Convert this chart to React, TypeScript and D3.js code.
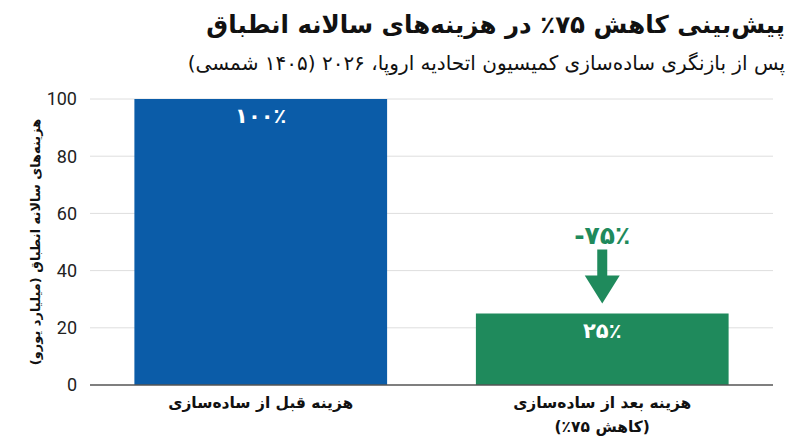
import { useMemo } from "react";
import * as d3 from "d3";

const categories = ["before", "after"];
const categoryLines = [
  ["هزینه قبل از ساده‌سازی"],
  ["هزینه بعد از ساده‌سازی", "(کاهش ۷۵٪)"],
];
const costValues = [100, 25];
const barLabels = ["۱۰۰٪", "۲۵٪"];
const barColors = ["#0b5ca8", "#1f8a5c"];
const yTicks = [0, 20, 40, 60, 80, 100];
const reductionLabel = "-۷۵٪";

const TITLE = "پیش‌بینی کاهش ۷۵٪ در هزینه‌های سالانه انطباق";
const SUBTITLE = "پس از بازنگری ساده‌سازی کمیسیون اتحادیه اروپا، ۲۰۲۶ (۱۴۰۵ شمسی)";
const Y_TITLE = "هزینه‌های سالانه انطباق (میلیارد یورو)";

const WIDTH = 800;
const HEIGHT = 447;
const MARGIN = { top: 99, right: 27, bottom: 62, left: 90 };
const FA = "'DejaVu Sans', 'Noto Sans', sans-serif";

export default function App() {
  const boundsWidth = WIDTH - MARGIN.left - MARGIN.right;
  const boundsHeight = HEIGHT - MARGIN.top - MARGIN.bottom;

  const xScale = useMemo(
    () =>
      d3
        .scaleBand()
        .domain(categories)
        .range([0, boundsWidth])
        .paddingInner(0.26)
        .paddingOuter(0.13),
    [boundsWidth]
  );

  const yScale = useMemo(
    () => d3.scaleLinear().domain([0, 100]).range([boundsHeight, 0]),
    [boundsHeight]
  );

  const grid = yTicks.map((tick) => (
    <g key={tick} transform={`translate(0,${yScale(tick)})`}>
      {tick > 0 && <line x1={0} x2={boundsWidth} stroke="#dedede" strokeWidth={1} />}
      <text
        x={-13}
        dy="0.35em"
        textAnchor="end"
        fontFamily="Roboto, sans-serif"
        fontSize={18}
        fill="#222"
      >
        {tick}
      </text>
    </g>
  ));

  const bars = categories.map((cat, i) => {
    const x = xScale(cat) as number;
    const y = yScale(costValues[i]);
    const cx = x + xScale.bandwidth() / 2;
    return (
      <g key={cat}>
        <rect
          x={x}
          y={y}
          width={xScale.bandwidth()}
          height={boundsHeight - y}
          fill={barColors[i]}
        />
        <text
          x={cx}
          y={y + 17}
          dy="0.35em"
          textAnchor="middle"
          fontFamily={FA}
          fontWeight="bold"
          fontSize={21}
          fill="white"
        >
          {barLabels[i]}
        </text>
        {categoryLines[i].map((line, j) => (
          <text
            key={j}
            x={cx}
            y={boundsHeight + 18 + j * 24}
            dy="0.35em"
            direction="rtl"
            textAnchor="middle"
            fontFamily={FA}
            fontWeight="bold"
            fontSize={15.5}
            fill="#111"
          >
            {line}
          </text>
        ))}
      </g>
    );
  });

  // reduction arrow above the second bar
  const after = categories[1];
  const ax = (xScale(after) as number) + xScale.bandwidth() / 2;
  const top = yScale(costValues[1]);
  const tip = top - 10;
  const headH = 28;
  const shaftTop = top - 64;
  const arrow = (
    <g fill={barColors[1]}>
      <rect x={ax - 5} y={shaftTop} width={10} height={tip - headH - shaftTop + 1} />
      <path
        d={`M${ax - 17.5},${tip - headH} L${ax + 17.5},${tip - headH} L${ax},${tip} Z`}
      />
      <text
        x={ax}
        y={shaftTop - 14}
        dy="0.35em"
        textAnchor="middle"
        direction="ltr"
        fontFamily={FA}
        fontWeight="bold"
        fontSize={25}
      >
        {reductionLabel}
      </text>
    </g>
  );

  return (
    <svg
      width={WIDTH}
      height={HEIGHT}
      style={{ position: "absolute", left: 0, top: 0, background: "white" }}
    >
      <text
        x={785}
        y={33}
        direction="rtl"
        textAnchor="start"
        fontFamily={FA}
        fontWeight="bold"
        fontSize={24.5}
        fill="#111"
      >
        {TITLE}
      </text>
      <text
        x={785}
        y={70}
        direction="rtl"
        textAnchor="start"
        fontFamily={FA}
        fontSize={20}
        fill="#111"
      >
        {SUBTITLE}
      </text>
      <text
        transform={`translate(40,${MARGIN.top + boundsHeight / 2}) rotate(-90)`}
        direction="rtl"
        textAnchor="middle"
        fontFamily={FA}
        fontWeight="bold"
        fontSize={13}
        fill="#111"
      >
        {Y_TITLE}
      </text>
      <g transform={`translate(${MARGIN.left},${MARGIN.top})`}>
        {grid}
        {bars}
        <line
          x1={0}
          x2={boundsWidth}
          y1={boundsHeight}
          y2={boundsHeight}
          stroke="#555"
          strokeWidth={1.5}
        />
        {arrow}
      </g>
    </svg>
  );
}
